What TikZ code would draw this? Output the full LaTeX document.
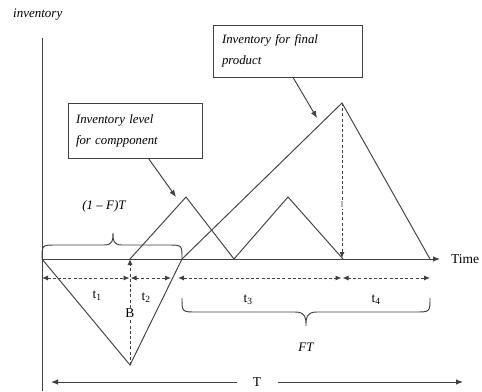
\documentclass[tikz,border=0pt]{standalone}
\usepackage{fontspec}
\setmainfont{Liberation Serif}
\usetikzlibrary{arrows.meta,calc}
\begin{document}
\begin{tikzpicture}[x=1pt,y=-1pt,
  ln/.style={draw=black!75,line width=0.95pt},
  arr/.style={ln,-{Latex[length=7pt,width=5.5pt]}},
  darr/.style={ln,dashed,dash pattern=on 3pt off 2.2pt,{Latex[length=6pt,width=5pt]}-{Latex[length=6pt,width=5pt]}},
  dsing/.style={ln,dashed,dash pattern=on 3pt off 2.2pt,-{Latex[length=6pt,width=5pt]}},
  lbl/.style={font=\fontsize{13.5}{15}\selectfont,inner sep=0pt},
  ilbl/.style={font=\fontsize{13}{15}\selectfont\itshape,inner sep=0pt},
  boxnode/.style={draw=black!75,line width=0.95pt,align=left,font=\fontsize{12.8}{21}\selectfont\itshape,inner ysep=0pt}]
\useasboundingbox (0,0) rectangle (482,391);
% axes
\coordinate (o) at (42,259);
\coordinate (ytop) at (42,38);
\coordinate (ybot) at (42,391);
\coordinate (xend) at (440,259);
\draw[ln] (ytop) -- (ybot);
\draw[arr] (o) -- (xend);
\node[lbl,anchor=west] (time) at (451,259) {Time};
\node[ilbl,anchor=west] (inv) at (13,15) {inventory};
% component inventory
\coordinate (b0) at (130,259);
\coordinate (c1) at (186,197);
\coordinate (c2) at (234,259);
\coordinate (c3) at (288,197);
\coordinate (c4) at (343,259);
\draw[ln] (b0) -- (c1) -- (c2) -- (c3) -- (c4);
% final product
\coordinate (f0) at (182,259);
\coordinate (fp) at (342,103);
\coordinate (f1) at (430,259);
\draw[ln] (f0) -- (fp) -- (f1);
% negative triangle
\coordinate (bb) at (130,365);
\draw[ln] (o) -- (bb) -- (f0);
% dashed verticals
\draw[dsing] (bb) -- (b0);
\node[lbl,fill=white,inner sep=1pt] (blab) at (130,313) {B};
\draw[dsing] (fp) -- (342,258);
\node[fill=white,inner sep=1pt,text=black!60,font=\fontsize{9}{10}\selectfont] (ilab) at (342,205) {I};
% dashed horizontals
\coordinate (h0) at (42,278);
\coordinate (h1) at (129.5,278);
\coordinate (h2) at (130.5,278);
\coordinate (h3) at (171,278);
\coordinate (h4) at (178,278);
\coordinate (h5) at (341.5,278);
\coordinate (h6) at (342.5,278);
\coordinate (h7) at (430,278);
\draw[darr] (h0) -- (h1);
\draw[darr] (h2) -- (h3);
\draw[darr] (h4) -- (h5);
\draw[darr] (h6) -- (h7);
\node[lbl] (t1) at (97,296) {t\textsubscript{1}};
\node[lbl] (t2) at (146,298) {t\textsubscript{2}};
\node[lbl] (t3) at (248,300) {t\textsubscript{3}};
\node[lbl] (t4) at (376,300) {t\textsubscript{4}};
% brace (1-F)T
\draw[ln] (42,259) .. controls (42,245) .. (56,245) -- (104,245)
  .. controls (113,245) and (113,240) .. (113,233)
  .. controls (113,240) and (113,245) .. (122,245) -- (168,245)
  .. controls (182,245) .. (182,259);
\node[ilbl] (oneF) at (104,206) {(1 – F)T};
% brace FT
\draw[ln] (182,298) .. controls (182,312) .. (197,312) -- (295,312)
  .. controls (306,312) and (306,318) .. (306,326)
  .. controls (306,318) and (306,312) .. (317,312) -- (415,312)
  .. controls (430,312) .. (430,298);
\node[ilbl] (ft) at (306,347) {FT};
% T arrow
\node[lbl] (T) at (257,382) {T};
\coordinate (tl) at (51,382);
\coordinate (tr) at (463,382);
\draw[arr] (237,382) -- (tl);
\draw[arr] (278,382) -- (tr);
% boxes
\node[boxnode,minimum width=134pt,minimum height=55pt,text width=118pt,inner xsep=8pt] (cbox) at (135,130.5) {Inventory level\\for compponent};
\node[boxnode,minimum width=149pt,minimum height=52pt,text width=131pt,inner xsep=9pt] (fbox) at (287.5,51) {Inventory for final\\product};
\draw[arr] ($(cbox.south west)!0.6!(cbox.south east)$) -- (176,197);
\draw[arr] ($(fbox.south west)!0.537!(fbox.south east)$) -- (317,118);
\end{tikzpicture}
\end{document}
